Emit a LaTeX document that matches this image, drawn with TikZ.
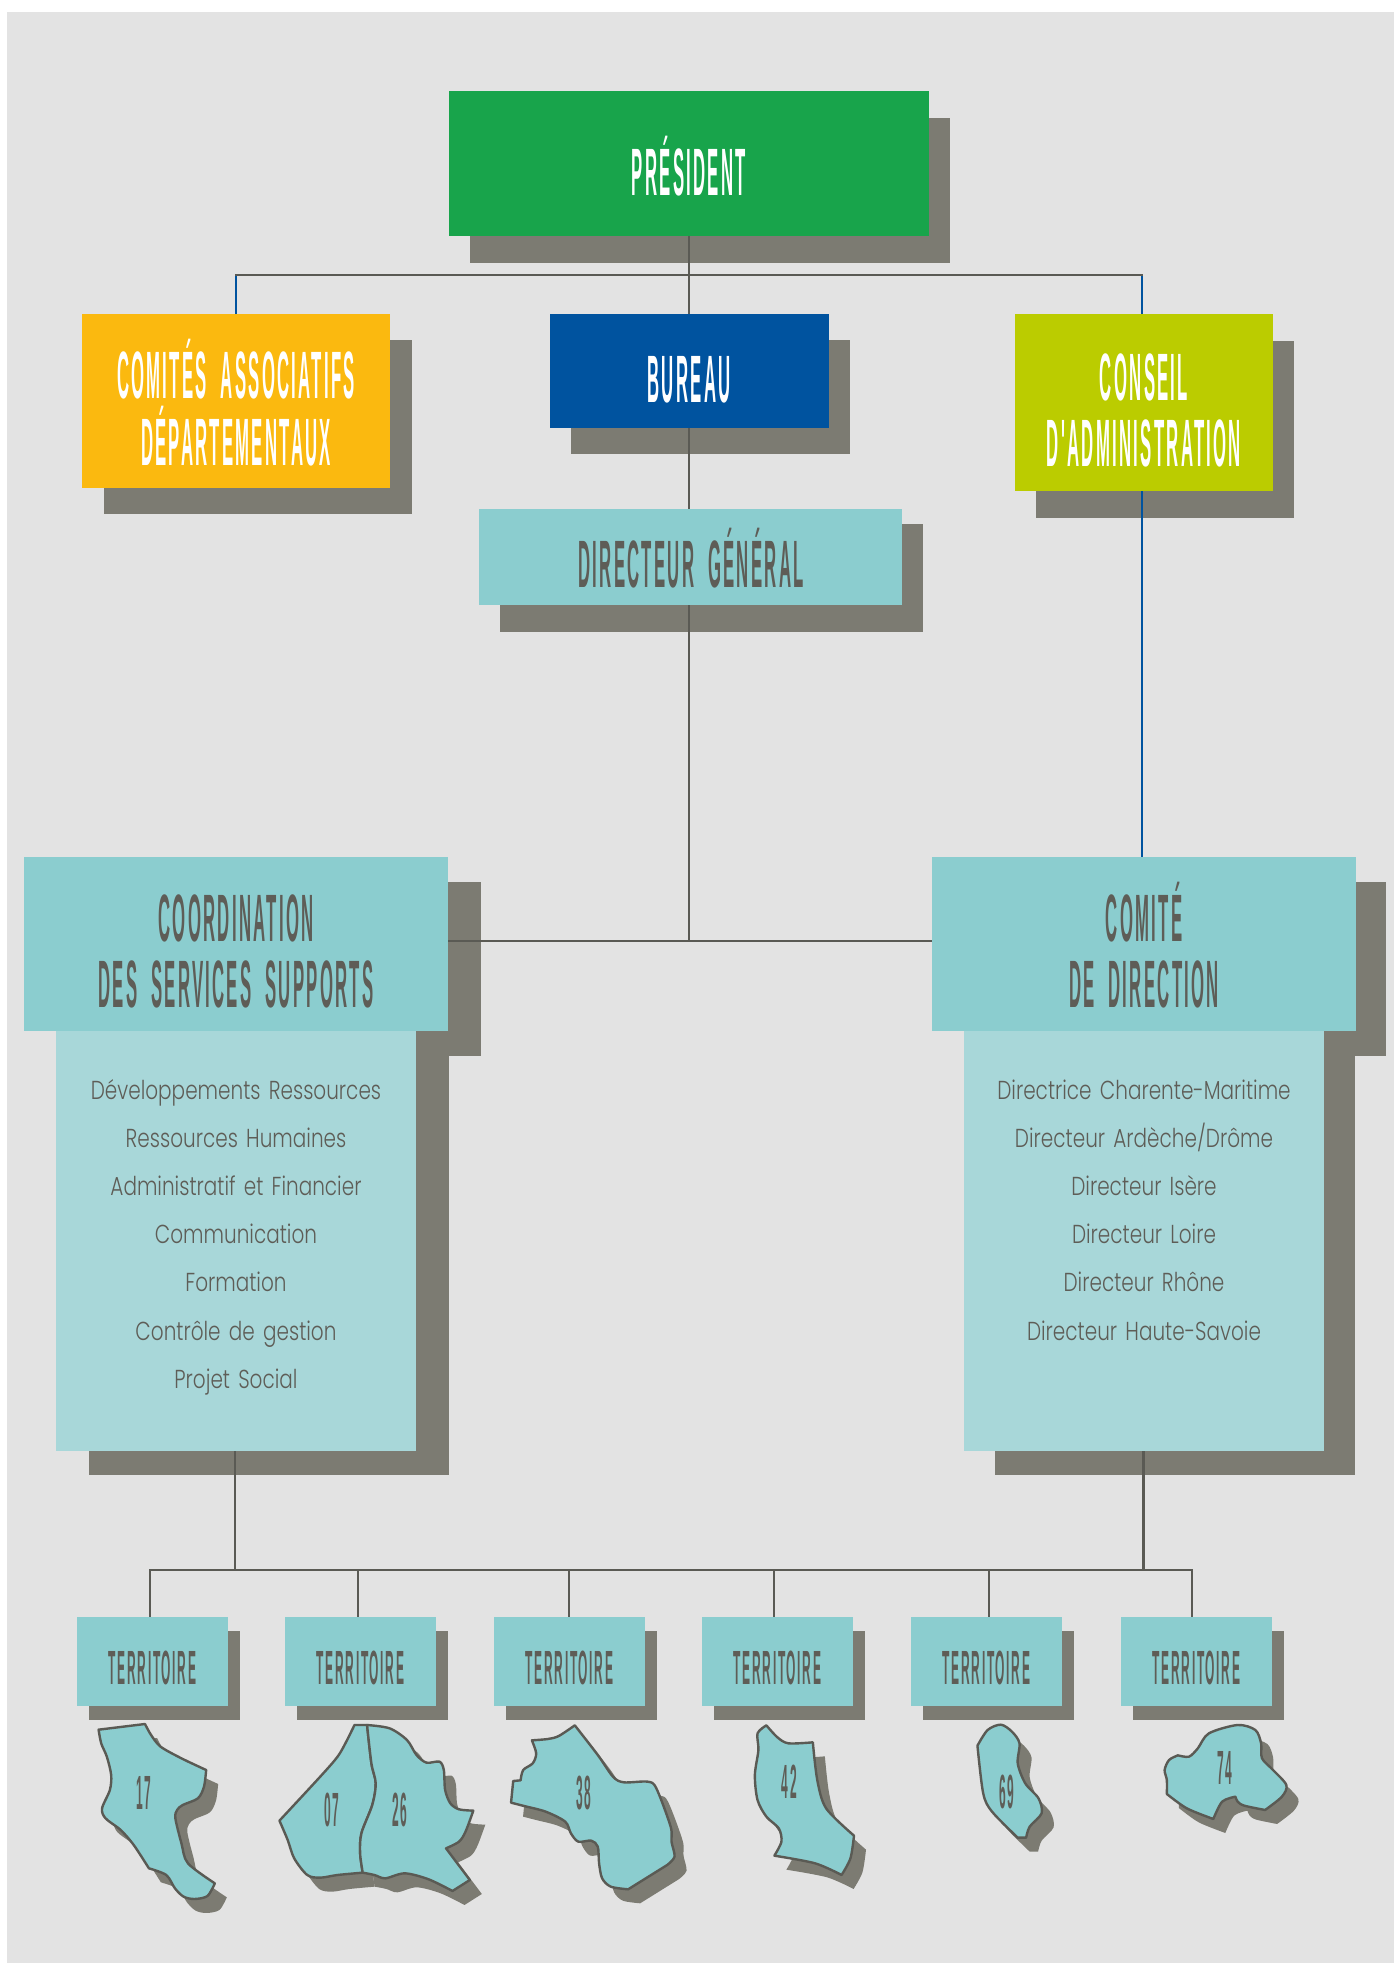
\documentclass[tikz,border=0pt]{standalone}
\usepackage{fontspec}
\newfontfamily\tallfont[FakeStretch=0.25,LetterSpace=3.4,WordSpace=2]{Liberation Sans Bold}
\newfontfamily\listfont[FakeStretch=0.77,WordSpace=1.5]{Poppins Light}
\definecolor{pagegray}{HTML}{E3E3E3}
\definecolor{shadowgray}{HTML}{7C7B72}
\definecolor{linegray}{HTML}{5A5A54}
\definecolor{textgray}{HTML}{5E5D57}
\definecolor{presgreen}{HTML}{18A44B}
\definecolor{comiteorange}{HTML}{FBB90F}
\definecolor{bureaublue}{HTML}{00539F}
\definecolor{conseillime}{HTML}{BBCC00}
\definecolor{teal}{HTML}{8BCDCF}
\definecolor{paleteal}{HTML}{A8D7D9}
\tikzset{
    orgbox/.style={rectangle,inner sep=0pt,outer sep=0pt},
    biglabel/.style={anchor=base,inner sep=0pt,font=\tallfont\fontsize{67}{68}\selectfont},
    smalllabel/.style={anchor=base,inner sep=0pt,text=textgray,font=\tallfont\fontsize{48}{49}\selectfont},
    listlabel/.style={anchor=base,inner sep=0pt,text=textgray,font=\listfont\fontsize{26}{27}\selectfont},
    orgline/.style={draw=linegray,line width=2.4pt},
    blueline/.style={draw=bureaublue,line width=2.6pt},
    deptmap/.style={fill=teal,draw=linegray,line width=2.4pt,line join=round}
}
\newcommand{\dept}[1]{
    \fill[shadowgray,xshift=12pt,yshift=-14pt] #1;
    \path[deptmap] #1;
}
\begin{document}
\begin{tikzpicture}[x=1pt,y=-1pt]
    \useasboundingbox (0,0) rectangle (1394,1963);
    % Draw page background
    \fill[white] (0,0) rectangle (1394,1963);
    \fill[pagegray] (7,12) rectangle (1394,1963);
    % Draw shadows
    \fill[shadowgray] (470,118) rectangle (950,263);
    \fill[shadowgray] (104,340) rectangle (412,514);
    \fill[shadowgray] (571,340) rectangle (850,454);
    \fill[shadowgray] (1036,341) rectangle (1294,518);
    \fill[shadowgray] (500,524) rectangle (923,632);
    \fill[shadowgray] (60,882) rectangle (481,1056);
    \fill[shadowgray] (89,1040) rectangle (449,1475);
    \fill[shadowgray] (965,882) rectangle (1386,1056);
    \fill[shadowgray] (995,1040) rectangle (1355,1475);
    % Draw boxes
    \node[orgbox,fill=presgreen,minimum width=480pt,minimum height=145pt] (president) at (689,163.5) {};
    \node[orgbox,fill=comiteorange,minimum width=308pt,minimum height=174pt] (comites) at (236,401) {};
    \node[orgbox,fill=bureaublue,minimum width=279pt,minimum height=114pt] (bureau) at (689,371) {};
    \node[orgbox,fill=conseillime,minimum width=258pt,minimum height=177pt] (conseil) at (1144,402.5) {};
    \node[orgbox,fill=teal,minimum width=423pt,minimum height=96pt] (directeur) at (690.5,557) {};
    \node[orgbox,fill=paleteal,minimum width=360pt,minimum height=420pt] (listleft) at (236,1241) {};
    \node[orgbox,fill=paleteal,minimum width=360pt,minimum height=420pt] (listright) at (1144,1241) {};
    \node[orgbox,fill=teal,minimum width=424pt,minimum height=174pt] (coordination) at (236,944) {};
    \node[orgbox,fill=teal,minimum width=424pt,minimum height=174pt] (comitedir) at (1144,944) {};
    % Draw connectors
    \coordinate (topbar) at (689,275);
    \coordinate (bluedrop) at (1142,275);
    \coordinate (hub) at (689,941);
    \coordinate (lowleft) at (235,1570);
    \coordinate (lowright) at (1143.5,1570);
    \draw[blueline] (comites.north) -- (comites.north |- topbar);
    \draw[blueline] (bluedrop) -- (bluedrop |- conseil.north);
    \draw[blueline] (bluedrop |- conseil.south) -- (bluedrop |- comitedir.north);
    \draw[orgline] (president.south) -- (bureau.north);
    \draw[orgline,line cap=rect] (comites.north |- topbar) -- (bluedrop);
    \draw[orgline] (bureau.south) -- (bureau.south |- directeur.north);
    \draw[orgline] (hub |- directeur.south) -- (hub);
    \draw[orgline] (hub -| coordination.east) -- (hub -| comitedir.west);
    \draw[orgline] (lowleft |- listleft.south) -- (lowleft);
    \draw[orgline] (lowright |- listright.south) -- (lowright);
    \draw[orgline,line cap=rect] (150,1570) -- (1192,1570);
    % Draw territory boxes
    \foreach \t/\bx/\dropx in {a/152.5/150,b/360.5/358,c/569.5/569,d/777.5/774,e/986.5/989,f/1196.5/1192}{
        \fill[shadowgray] ({\bx-63.5},1631) rectangle ({\bx+87.5},1720);
        \node[orgbox,fill=teal,minimum width=151pt,minimum height=89pt] (terr\t) at (\bx,1661.5) {};
        \coordinate (drop\t) at (\dropx,1570);
        \draw[orgline] (drop\t) -- (drop\t |- terr\t.north);
        \node[smalllabel] (terrlabel\t) at (\bx,1684) {TERRITOIRE};
    }
    % Draw titles
    \node[biglabel,text=white] (presidentlabel) at (689,195) {PRÉSIDENT};
    \node[biglabel,text=white] (comiteslabela) at (236,398.5) {COMITÉS ASSOCIATIFS};
    \node[biglabel,text=white] (comiteslabelb) at (236,465) {DÉPARTEMENTAUX};
    \node[biglabel,text=white] (bureaulabel) at (689,402) {BUREAU};
    \node[biglabel,text=white] (conseillabela) at (1144,400) {CONSEIL};
    \node[biglabel,text=white] (conseillabelb) at (1144,466) {D'ADMINISTRATION};
    \node[biglabel,text=textgray] (directeurlabel) at (691,587) {DIRECTEUR GÉNÉRAL};
    \node[biglabel,text=textgray] (coordlabela) at (236,941) {COORDINATION};
    \node[biglabel,text=textgray] (coordlabelb) at (236,1007.5) {DES SERVICES SUPPORTS};
    \node[biglabel,text=textgray] (comitedirlabela) at (1144,941) {COMITÉ};
    \node[biglabel,text=textgray] (comitedirlabelb) at (1144,1007.5) {DE DIRECTION};
    % Draw lists
    \foreach \row [count=\n] in {Développements Ressources,Ressources Humaines,Administratif et Financier,Communication,Formation,Contrôle de gestion,Projet Social}{
        \node[listlabel] (leftrow\n) at (236,{1099+48.2*(\n-1)}) {\row};
    }
    \foreach \row [count=\n] in {Directrice Charente-Maritime,Directeur Ardèche/Drôme,Directeur Isère,Directeur Loire,Directeur Rhône,Directeur Haute-Savoie}{
        \node[listlabel] (rightrow\n) at (1144,{1099+48.2*(\n-1)}) {\row};
    }
    % Draw departments, left group
    \begin{scope}[shift={(60,1600)},x=0.4337pt,y=-0.3333pt]
        \dept{plot[smooth,tension=.5] coordinates {(89,389) (196,372)} -- plot[smooth,tension=.5] coordinates {(196,372) (210,405) (232,440) (280,475) (337,510)} -- plot[smooth,tension=.5] coordinates {(337,510) (332,560) (318,595) (283,615) (270,630) (266,655) (280,730) (295,790) (357,850)} -- plot[smooth,tension=.5] coordinates {(357,850) (340,888) (310,897) (285,890) (265,865) (245,825) (205,805)} -- plot[smooth,tension=.5] coordinates {(205,805) (170,735) (140,690) (105,655) (97,625) (115,570) (118,525) (108,470) (95,430) (89,389)} -- cycle}
        \dept{(679,375) -- (708,375) -- plot[smooth,tension=.5] coordinates {(708,375) (718,490) (728,550) (720,615) (695,700) (692,760) (698,818)} -- plot[smooth,tension=.5] coordinates {(698,818) (640,825) (600,833) (570,825) (540,775) (525,720) (506,662)} -- plot[smooth,tension=.5] coordinates {(506,662) (600,530) (640,470) (660,425) (679,375)} -- cycle}
        \dept{plot[smooth,tension=.5] coordinates {(708,375) (760,385) (800,420) (822,465) (845,488) (875,485) (885,510) (888,570) (900,610) (920,628) (953,632)} -- plot[smooth,tension=.5] coordinates {(953,632) (935,695) (920,725) (890,745)} -- (945,840) -- (905,873) -- plot[smooth,tension=.5] coordinates {(905,873) (850,838) (795,820) (750,835) (725,825) (698,818)} -- plot[smooth,tension=.5] coordinates {(698,818) (692,760) (695,700) (720,615) (728,550) (718,490) (708,375)} -- cycle}
        \dept{plot[smooth,tension=.5] coordinates {(1088,421) (1125,417) (1150,408) (1187,376)} -- plot[smooth,tension=.5] coordinates {(1187,376) (1240,465) (1275,530) (1300,547) (1355,545) (1375,565) (1408,680) (1410,725) (1417,770) (1400,795)} -- (1310,868) -- plot[smooth,tension=.5] coordinates {(1310,868) (1270,860) (1250,835) (1243,790) (1240,740) (1225,722) (1195,725) (1178,700) (1165,665) (1120,635) (1070,618) (1040,608)} -- (1045,543) -- (1062,541) -- plot[smooth,tension=.5] coordinates {(1062,541) (1068,510) (1090,490) (1098,460) (1088,421)} -- cycle}
    \end{scope}
    % Draw departments, right group
    \begin{scope}[shift={(700,1600)},x=0.4425pt,y=-0.3333pt]
        \dept{plot[smooth,tension=.5] coordinates {(150,376) (175,412) (200,430) (255,427)} -- plot[smooth,tension=.5] coordinates {(255,427) (265,540) (285,625) (348,707)} -- plot[smooth,tension=.5] coordinates {(348,707) (340,775) (320,825)} -- plot[smooth,tension=.5] coordinates {(320,825) (260,790) (168,767)} -- plot[smooth,tension=.5] coordinates {(168,767) (184,725) (178,685) (150,650) (130,600) (124,525) (132,450) (130,400) (150,376)} -- cycle}
        \dept{plot[smooth,tension=.5] coordinates {(627,437) (650,390) (680,374) (705,395) (722,430) (718,490) (735,550) (765,595) (772,640) (745,680) (737,713)} -- (718,713) -- plot[smooth,tension=.5] coordinates {(718,713) (660,635) (640,580) (627,437)} -- cycle}
        \dept{plot[smooth,tension=.5] coordinates {(1080,466) (1105,470) (1125,445) (1150,400) (1215,375) (1255,390) (1268,430) (1270,475) (1295,510) (1325,555) (1315,590) (1277,630)} -- plot[smooth,tension=.5] coordinates {(1277,630) (1230,617) (1215,605) (1210,590)} -- plot[smooth,tension=.5] coordinates {(1210,590) (1180,605) (1160,657)} -- plot[smooth,tension=.5] coordinates {(1160,657) (1100,625) (1055,582)} -- plot[smooth,tension=.5] coordinates {(1055,582) (1055,540) (1050,510) (1060,480) (1080,466)} -- cycle}
    \end{scope}
    % Draw department numbers
    \node[smalllabel] (num17) at (143.7,1809) {17};
    \node[smalllabel] (num07) at (332,1826) {07};
    \node[smalllabel] (num26) at (400,1826) {26};
    \node[smalllabel] (num38) at (584,1809) {38};
    \node[smalllabel] (num42) at (789.4,1798) {42};
    \node[smalllabel] (num69) at (1007,1808) {69};
    \node[smalllabel] (num74) at (1225,1784) {74};
\end{tikzpicture}
\end{document}
